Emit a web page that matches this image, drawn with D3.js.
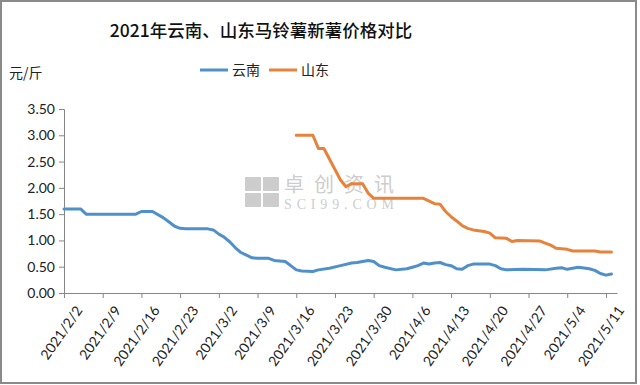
<!DOCTYPE html>
<html>
<head>
<meta charset="utf-8">
<script src="https://cdn.jsdelivr.net/npm/d3@7"></script>
<style>
  body { margin: 0; background: #fff; }
  svg { display: block; }
</style>
</head>
<body>
<div id="chart"></div>
<script>
// Chart data
const title = "2021年云南、山东马铃薯新薯价格对比";
const unitLabel = "元/斤";
const seriesNames = ["云南", "山东"];

const yunnanDates = ["2021/2/2", "2021/2/5", "2021/2/6", "2021/2/15", "2021/2/16", "2021/2/18", "2021/2/20", "2021/2/21",
  "2021/2/22", "2021/2/23", "2021/2/24", "2021/2/28", "2021/3/1", "2021/3/2", "2021/3/3", "2021/3/4", "2021/3/5",
  "2021/3/6", "2021/3/7", "2021/3/8", "2021/3/9", "2021/3/11", "2021/3/12", "2021/3/14", "2021/3/15", "2021/3/16",
  "2021/3/17", "2021/3/19", "2021/3/20", "2021/3/22", "2021/3/24", "2021/3/26", "2021/3/27", "2021/3/29", "2021/3/30",
  "2021/3/31", "2021/4/1", "2021/4/3", "2021/4/5", "2021/4/6", "2021/4/7", "2021/4/8", "2021/4/9", "2021/4/10",
  "2021/4/11", "2021/4/12", "2021/4/13", "2021/4/14", "2021/4/15", "2021/4/16", "2021/4/17", "2021/4/20", "2021/4/21",
  "2021/4/22", "2021/4/23", "2021/4/26", "2021/4/30", "2021/5/2", "2021/5/3", "2021/5/4", "2021/5/6", "2021/5/8",
  "2021/5/9", "2021/5/10", "2021/5/11", "2021/5/12"];
const yunnanValues = [1.60, 1.60, 1.50, 1.50, 1.55, 1.55, 1.43, 1.35,
  1.27, 1.23, 1.22, 1.22, 1.20, 1.12, 1.06, 0.97, 0.86,
  0.77, 0.72, 0.67, 0.66, 0.66, 0.62, 0.60, 0.52, 0.44,
  0.42, 0.41, 0.44, 0.47, 0.52, 0.57, 0.58, 0.62, 0.60,
  0.52, 0.49, 0.44, 0.46, 0.49, 0.52, 0.57, 0.55, 0.57,
  0.58, 0.54, 0.52, 0.46, 0.45, 0.52, 0.55, 0.55, 0.52,
  0.46, 0.44, 0.45, 0.44, 0.47, 0.48, 0.45, 0.49, 0.46,
  0.43, 0.37, 0.34, 0.36];

const shandongDates = ["2021/3/16", "2021/3/19", "2021/3/20", "2021/3/21", "2021/3/22", "2021/3/23", "2021/3/24",
  "2021/3/25", "2021/3/26", "2021/3/28", "2021/3/29", "2021/3/30", "2021/4/8", "2021/4/10", "2021/4/11", "2021/4/12",
  "2021/4/13", "2021/4/14", "2021/4/15", "2021/4/16", "2021/4/17", "2021/4/19", "2021/4/20", "2021/4/21", "2021/4/23",
  "2021/4/24", "2021/4/25", "2021/4/29", "2021/4/30", "2021/5/1", "2021/5/2", "2021/5/4", "2021/5/5", "2021/5/9",
  "2021/5/10", "2021/5/12"];
const shandongValues = [3.00, 3.00, 2.75, 2.75, 2.55, 2.35, 2.15,
  2.02, 2.08, 2.08, 1.90, 1.80, 1.80, 1.70, 1.69, 1.55,
  1.45, 1.37, 1.28, 1.23, 1.20, 1.17, 1.14, 1.05, 1.04,
  0.98, 1.00, 0.99, 0.95, 0.91, 0.85, 0.83, 0.80, 0.80,
  0.78, 0.78];

const xTickLabels = ["2021/2/2", "2021/2/9", "2021/2/16", "2021/2/23", "2021/3/2", "2021/3/9", "2021/3/16",
  "2021/3/23", "2021/3/30", "2021/4/6", "2021/4/13", "2021/4/20", "2021/4/27", "2021/5/4", "2021/5/11"];
const yTicks = [0, 0.5, 1, 1.5, 2, 2.5, 3, 3.5];

const width = 640;
const height = 385;
const colors = ["#4f8fca", "#e6823a"];
const latin = "Lato, 'Open Sans', sans-serif";
const cjk = "'Noto Sans CJK SC', sans-serif";

const parseDate = d3.timeParse("%Y/%m/%d");
const fmt = d => `${d.getFullYear()}/${d.getMonth() + 1}/${d.getDate()}`;

const series = [
  yunnanDates.map((d, i) => ({ date: parseDate(d), value: yunnanValues[i] })),
  shandongDates.map((d, i) => ({ date: parseDate(d), value: shandongValues[i] }))
];

const svg = d3.select("#chart")
  .append("svg")
  .attr("width", width)
  .attr("height", height);

// outer frame
svg.append("rect")
  .attr("x", 1).attr("y", 1)
  .attr("width", 635).attr("height", 382)
  .attr("fill", "#fff")
  .attr("stroke", "#8a8a8a")
  .attr("stroke-width", 2);

const x = d3.scaleTime()
  .domain([parseDate("2021/2/2"), parseDate("2021/5/13")])
  .range([64, 617]);

const y = d3.scaleLinear()
  .domain([0, 3.5])
  .range([293, 109]);

// watermark
const wm = svg.append("g").attr("fill", "#cdcdcd");
wm.selectAll("rect.sq")
  .data([[0, 0], [1, 0], [0, 1], [1, 1]])
  .enter().append("rect")
  .attr("x", d => 245 + d[0] * 18)
  .attr("y", d => 177 + d[1] * 16)
  .attr("width", 16).attr("height", 14);
wm.append("text")
  .attr("x", 284).attr("y", 192)
  .attr("textLength", 110)
  .style("font-family", cjk)
  .style("font-size", "20px")
  .text("卓创资讯");
wm.append("text")
  .attr("x", 284).attr("y", 209)
  .attr("textLength", 110)
  .style("font-family", "'Liberation Serif', serif")
  .style("font-size", "14px")
  .text("SCI99.COM");

// y axis
const yAxis = svg.append("g")
  .attr("transform", "translate(64,0)")
  .call(d3.axisLeft(y).tickValues(yTicks).tickFormat(d3.format(".2f")).tickSize(5).tickPadding(4));
yAxis.select(".domain").attr("stroke", "#868686");
yAxis.selectAll(".tick line").attr("stroke", "#868686");
yAxis.selectAll("text")
  .attr("fill", "#222")
  .style("font-family", latin)
  .style("font-size", "14px");

// x axis
const xAxis = svg.append("g")
  .attr("transform", "translate(0,293)")
  .call(d3.axisBottom(x).tickValues(xTickLabels.map(parseDate)).tickFormat(fmt).tickSize(5).tickSizeOuter(0));
xAxis.select(".domain").attr("stroke", "#868686");
xAxis.selectAll(".tick line").attr("stroke", "#868686");
xAxis.selectAll("text")
  .attr("fill", "#222")
  .style("font-family", latin)
  .style("font-size", "14px")
  .attr("text-anchor", "end")
  .attr("dy", "0.35em")
  .attr("transform", "translate(8,10) rotate(-55)");

// lines
const line = d3.line()
  .x(d => x(d.date))
  .y(d => y(d.value));

svg.append("g")
  .selectAll("path")
  .data(series)
  .enter().append("path")
  .attr("d", line)
  .attr("fill", "none")
  .attr("stroke", (d, i) => colors[i])
  .attr("stroke-width", 3)
  .attr("stroke-linejoin", "round")
  .attr("stroke-linecap", "round");

// title
svg.append("text")
  .attr("x", 261).attr("y", 37)
  .attr("text-anchor", "middle")
  .attr("fill", "#111")
  .style("font-family", cjk)
  .style("font-weight", "500")
  .style("font-size", "17.5px")
  .text(title);

// unit
svg.append("text")
  .attr("x", 9).attr("y", 78)
  .attr("fill", "#222")
  .style("font-family", cjk)
  .style("font-size", "14px")
  .text(unitLabel);

// legend
const legend = svg.append("g")
  .selectAll("g")
  .data(seriesNames)
  .enter().append("g")
  .attr("transform", (d, i) => `translate(${200 + i * 69},70)`);
legend.append("line")
  .attr("x1", 0).attr("x2", 28)
  .attr("stroke", (d, i) => colors[i])
  .attr("stroke-width", 3);
legend.append("text")
  .attr("x", 32).attr("y", 5)
  .attr("fill", "#222")
  .style("font-family", cjk)
  .style("font-size", "14px")
  .text(d => d);
</script>
</body>
</html>
